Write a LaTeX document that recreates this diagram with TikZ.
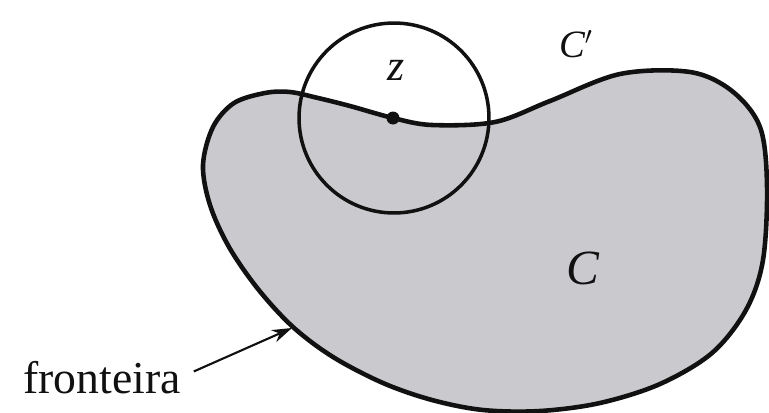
\documentclass[tikz,border=0pt]{standalone}
\usepackage{fontspec}
\setmainfont{Liberation Serif}
\usepackage{xcolor}
\definecolor{cInk}{HTML}{111111}
\definecolor{cShade}{HTML}{CACACE}
\usetikzlibrary{arrows.meta}
\tikzset{
  region/.style={draw=cInk,line width=2.6pt,fill=cShade},
  disc/.style={draw=cInk,line width=2pt},
  dot/.style={circle,fill=cInk,inner sep=0pt,minimum size=0.26cm},
  lbl/.style={text=cInk,inner sep=2pt},
  arrow/.style={-{Stealth[length=4mm,width=2.6mm]},line width=1.2pt,draw=cInk},
}

\begin{document}
\begin{tikzpicture}[x=0.02cm,y=-0.02cm]
  \useasboundingbox (0,0) rectangle (769,413);
  % o conjunto C
  \draw[region] plot[smooth cycle,tension=0.55] coordinates {
    (203,165) (213,127) (234,103) (265,93) (290,92) (318,98) (350,106)
    (393,118) (432,125) (495,122) (550,101) (620,74) (690,72) (732,91)
    (760,127) (767,185) (763,260) (746,310) (712,353) (660,384) (600,403)
    (540,411) (483,410) (432,400) (383,383) (333,357) (293,327) (258,289)
    (229,247) (210,205)};
  % vizinhanca de z
  \draw[disc] (394,118) circle[radius=1.9cm];
  \node[dot] (z) at (393,118) {};
  \node[lbl,font=\fontsize{25}{28}\selectfont\itshape] (zlbl) at (396,70) {z};
  \node[lbl,font=\fontsize{22}{26}\selectfont\itshape] (Cc) at (576,44) {C$'$};
  \node[lbl,font=\fontsize{28}{32}\selectfont\itshape] (Cin) at (583,268) {C};
  \node[lbl,font=\fontsize{26}{30}\selectfont,anchor=base west,inner sep=0pt] (front) at (23,393) {fronteira};
  \coordinate (edge) at (292,328);
  \draw[arrow,shorten <=8pt] (front.east) -- (edge);
\end{tikzpicture}
\end{document}
